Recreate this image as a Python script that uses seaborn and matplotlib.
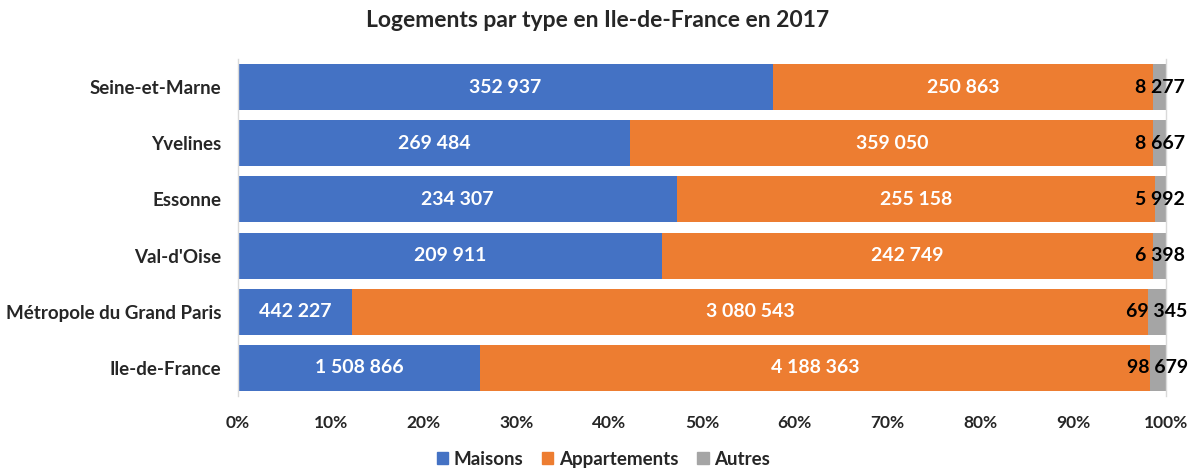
import pandas as pd
import matplotlib.pyplot as plt
import seaborn as sns
from matplotlib.patches import Patch
from matplotlib.ticker import PercentFormatter

# Données : logements par type en Ile-de-France (2017)
territoires = ["Seine-et-Marne", "Yvelines", "Essonne", "Val-d'Oise",
               "Métropole du Grand Paris", "Ile-de-France"]
maisons = [352937, 269484, 234307, 209911, 442227, 1508866]
appartements = [250863, 359050, 255158, 242749, 3080543, 4188363]
autres = [8277, 8667, 5992, 6398, 69345, 98679]

couleurs = {"Maisons": "#4472C4", "Appartements": "#ED7D31", "Autres": "#A5A5A5"}

df = pd.DataFrame({"territoire": territoires, "Maisons": maisons,
                   "Appartements": appartements, "Autres": autres})
total = df[["Maisons", "Appartements", "Autres"]].sum(axis=1)
df["p_mai"] = df["Maisons"] / total * 100
df["p_app"] = df["Appartements"] / total * 100
df["p_aut"] = df["Autres"] / total * 100
df["cum_app"] = df["p_mai"] + df["p_app"]
df["cum_aut"] = df["cum_app"] + df["p_aut"]

sns.set_style("white")
plt.rcParams["font.family"] = ["Lato", "DejaVu Sans"]
plt.rcParams["font.weight"] = "bold"

fig = plt.figure(figsize=(11.95, 4.68), dpi=100)
ax = fig.add_axes([0.1992, 0.154, 0.7765, 0.72])

# barres empilées : on superpose les cumuls
for col, nom in [("cum_aut", "Autres"), ("cum_app", "Appartements"), ("p_mai", "Maisons")]:
    sns.barplot(data=df, x=col, y="territoire", orient="h", color=couleurs[nom],
                saturation=1, width=0.82, linewidth=0, ax=ax)

def fmt(v):
    return f"{v:,}".replace(",", " ")

for i, r in df.iterrows():
    ax.text(r["p_mai"] / 2, i, fmt(r["Maisons"]), ha="center", va="center",
            color="white", fontsize=14, fontweight="bold")
    ax.text(r["p_mai"] + r["p_app"] / 2, i, fmt(r["Appartements"]), ha="center",
            va="center", color="white", fontsize=14, fontweight="bold")
    ax.text(r["cum_app"] + r["p_aut"] / 2, i, fmt(r["Autres"]), ha="center",
            va="center", color="black", fontsize=14, fontweight="bold")

ax.set_xlim(0, 100)
ax.set_ylim(5.5, -0.5)
ax.set_xticks(range(0, 101, 10))
ax.xaxis.set_major_formatter(PercentFormatter(decimals=0))
ax.set_xlabel("")
ax.set_ylabel("")
ax.tick_params(axis="both", length=0)
ax.tick_params(axis="x", pad=14, labelsize=12.5)
ax.tick_params(axis="y", pad=12, labelsize=13.5)
for s in ["top", "bottom"]:
    ax.spines[s].set_visible(False)
for s in ["left", "right"]:
    ax.spines[s].set_color("#D9D9D9")
    ax.spines[s].set_linewidth(1)

fig.suptitle("Logements par type en Ile-de-France en 2017", y=0.978,
             fontsize=16.5, fontweight="bold")

handles = [Patch(color=couleurs[n], label=n) for n in ["Maisons", "Appartements", "Autres"]]
fig.legend(handles=handles, loc="lower center", ncol=3, frameon=False,
           fontsize=13.5, handlelength=0.6, handleheight=0.6, handletextpad=0.3,
           columnspacing=1.0, bbox_to_anchor=(0.505, -0.035))

fig.savefig("out.png", dpi=100)
